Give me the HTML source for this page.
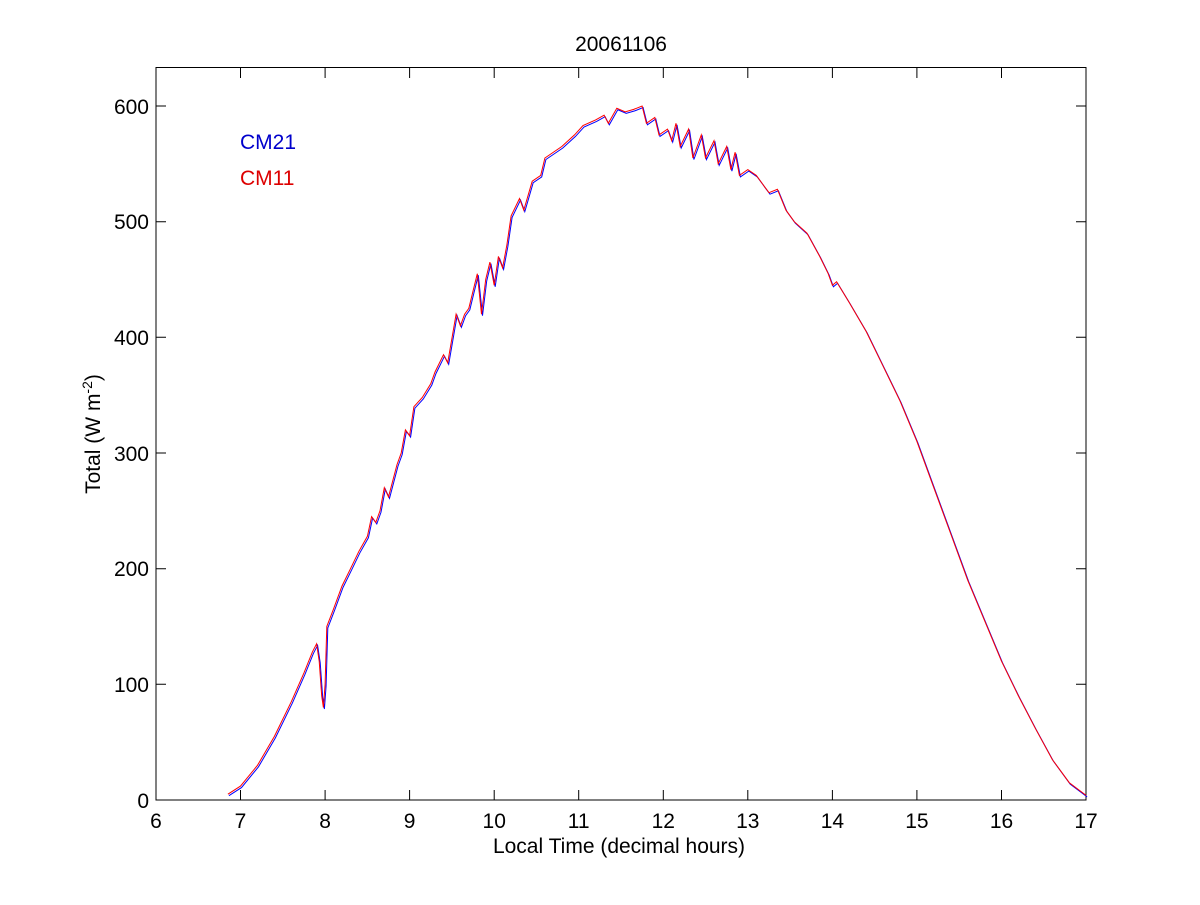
<!DOCTYPE html>
<html><head><style>body{margin:0;background:#fff}</style></head><body>
<svg width="1200" height="900" xmlns="http://www.w3.org/2000/svg" font-family="Liberation Sans, sans-serif" font-size="21">
<rect width="1200" height="900" fill="#fff"/>
<rect x="156" y="67.5" width="930" height="732.5" fill="none" stroke="#000" stroke-width="1"/>
<g stroke="#000" stroke-width="1">
<path d="M156,800v-10M240.5,800v-10M325.1,800v-10M409.6,800v-10M494.2,800v-10M578.7,800v-10M663.3,800v-10M747.8,800v-10M832.4,800v-10M916.9,800v-10M1001.5,800v-10M1086,800v-10"/>
<path d="M156,68v10M240.5,68v10M325.1,68v10M409.6,68v10M494.2,68v10M578.7,68v10M663.3,68v10M747.8,68v10M832.4,68v10M916.9,68v10M1001.5,68v10M1086,68v10"/>
<path d="M156,800h10M156,684.3h10M156,568.7h10M156,453h10M156,337.3h10M156,221.7h10M156,106h10"/>
<path d="M1086,800h-10M1086,684.3h-10M1086,568.7h-10M1086,453h-10M1086,337.3h-10M1086,221.7h-10M1086,106h-10"/>
</g>
<g text-anchor="middle">
<text x="156" y="828">6</text><text x="240.5" y="828">7</text><text x="325.1" y="828">8</text><text x="409.6" y="828">9</text><text x="494.2" y="828">10</text><text x="578.7" y="828">11</text><text x="663.3" y="828">12</text><text x="747.8" y="828">13</text><text x="832.4" y="828">14</text><text x="916.9" y="828">15</text><text x="1001.5" y="828">16</text><text x="1086" y="828">17</text>
<text x="619" y="853">Local Time (decimal hours)</text>
<text x="621" y="51">20061106</text>
</g>
<g text-anchor="end">
<text x="149" y="808">0</text><text x="149" y="692">100</text><text x="149" y="576">200</text><text x="149" y="461">300</text><text x="149" y="345">400</text><text x="149" y="229">500</text><text x="149" y="114">600</text>
</g>
<text transform="translate(100,434) rotate(-90)" text-anchor="middle">Total (W m<tspan dy="-8" font-size="14">-2</tspan><tspan dy="8">)</tspan></text>
<text x="240" y="149" fill="#0000cc">CM21</text>
<text x="240" y="185" fill="#dd0000">CM11</text>
<defs>
<polyline id="c" fill="none" points="227.9,794.2 240.5,786.1 257.5,765.3 274.4,736.4 291.3,701.7 304.0,672.8 312.4,651.9 316.6,643.8 319.2,661.2 321.7,695.9 323.4,707.5 325.1,684.3 326.8,626.5 333.5,609.1 342.0,586.0 350.5,568.7 358.9,551.3 367.4,536.3 371.6,516.6 375.8,522.4 380.0,510.8 384.3,487.7 388.5,496.9 397.0,464.6 401.2,453.0 405.4,429.9 409.6,435.6 413.9,406.7 422.3,397.5 430.8,383.6 435.0,372.0 443.5,354.7 447.7,362.8 456.1,314.2 460.4,325.8 464.6,314.2 468.8,308.4 473.0,291.1 477.3,273.7 481.5,314.2 485.7,279.5 489.9,262.1 494.2,285.3 498.4,256.4 502.6,267.9 506.9,244.8 511.1,215.9 519.5,198.5 523.8,210.1 532.2,181.2 540.7,175.4 544.9,158.0 561.8,146.5 574.5,134.9 583.0,125.6 595.6,119.9 604.1,115.2 608.3,123.3 616.8,108.3 625.2,111.8 633.7,109.4 642.1,106.0 646.4,123.3 654.8,117.5 659.0,134.9 667.5,129.1 671.7,140.7 676.0,123.3 680.2,146.5 688.6,129.1 692.9,158.0 701.3,134.9 705.5,158.0 714.0,140.7 718.2,163.8 726.7,146.5 730.9,169.6 735.1,152.2 739.4,175.4 747.8,169.6 756.3,175.4 764.7,186.9 769.0,192.7 777.4,189.3 785.9,210.1 794.3,221.7 807.0,233.2 819.7,256.4 828.2,273.7 832.4,285.3 836.6,281.8 849.3,302.6 866.2,331.5 883.1,366.2 900.0,400.9 916.9,441.4 933.8,487.7 950.8,534.0 967.7,580.2 984.6,620.7 1001.5,661.2 1018.4,695.9 1035.3,728.3 1052.3,759.5 1069.2,782.6 1086.1,795.4"/>
</defs>
<use href="#c" transform="translate(1,1.5)" stroke="#0000ff" stroke-width="1"/>
<use href="#c" stroke="#ff0000" stroke-width="1"/>
</svg>
</body></html>
